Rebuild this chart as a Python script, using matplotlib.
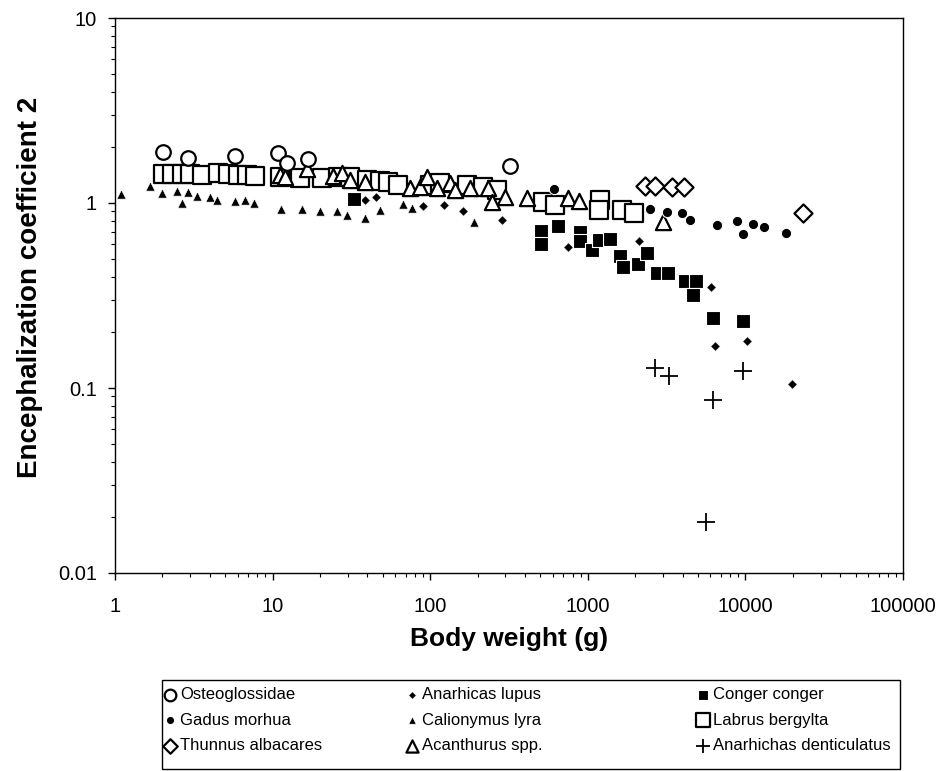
import matplotlib
matplotlib.use("Agg")
import matplotlib.pyplot as plt
from matplotlib.patches import Rectangle
from matplotlib.ticker import LogLocator, FixedLocator, NullFormatter

plt.rcParams['font.family'] = ['Liberation Sans', 'DejaVu Sans']

# ---- data (body weight g, encephalization coefficient 2) ----
osteo_x = [2.02, 2.91, 5.78, 10.8, 12.4, 16.8, 322]
osteo_y = [1.89, 1.75, 1.80, 1.86, 1.64, 1.73, 1.58]

gadus_x = [613, 2490, 3200, 3980, 4480, 6640, 8890, 9710, 11200, 13200, 18200]
gadus_y = [1.19, 0.93, 0.89, 0.88, 0.81, 0.76, 0.80, 0.68, 0.77, 0.74, 0.69]

thunnus_x = [2320, 2680, 3440, 4100, 23300]
thunnus_y = [1.24, 1.24, 1.22, 1.22, 0.88]

lupus_x = [38.7, 45.4, 90.3, 123, 162, 287, 752, 2120, 6080, 6450, 10300, 19900]
lupus_y = [1.04, 1.08, 0.96, 0.98, 0.91, 0.81, 0.58, 0.62, 0.35, 0.169, 0.18, 0.105]

lyra_x = [1.09, 1.67, 1.99, 2.48, 2.66, 2.91, 3.32, 4.01, 4.44, 5.78, 6.69, 7.63,
          11.3, 15.4, 20.0, 25.7, 29.7, 38.7, 48.2, 67.4, 76.9, 190]
lyra_y = [1.12, 1.24, 1.13, 1.16, 1.00, 1.15, 1.09, 1.08, 1.04, 1.03, 1.04, 1.00,
          0.93, 0.93, 0.91, 0.91, 0.86, 0.83, 0.92, 0.99, 0.94, 0.79]

acanth_x = [11.2, 12.0, 16.6, 24.2, 27.6, 31.1, 38.7, 74.6, 86.4, 95.7, 111, 134, 144,
            179, 233, 248, 299, 413, 752, 883, 3010]
acanth_y = [1.42, 1.38, 1.53, 1.40, 1.45, 1.33, 1.30, 1.21, 1.22, 1.38, 1.21, 1.28, 1.18,
            1.21, 1.21, 1.01, 1.08, 1.06, 1.06, 1.03, 0.79]

conger_x = [32.9, 507, 650, 507, 896, 896, 1070, 1170, 1390, 1610, 1680, 2090, 2390,
            2760, 3250, 4160, 4890, 4680, 6270, 9710]
conger_y = [1.05, 0.71, 0.75, 0.60, 0.70, 0.62, 0.56, 0.63, 0.64, 0.52, 0.45, 0.47, 0.54,
            0.42, 0.42, 0.38, 0.38, 0.32, 0.24, 0.23]

labrus_x = [2.02, 2.30, 2.66, 2.99, 3.57, 4.51, 5.22, 6.04, 6.89, 7.74, 11.2, 15.0, 20.6,
            26.0, 31.0, 39.8, 48.2, 54.1, 62.6, 100, 116, 172, 217, 266, 522, 622, 1200,
            1170, 1660, 1950]
labrus_y = [1.43, 1.43, 1.43, 1.43, 1.42, 1.45, 1.43, 1.42, 1.42, 1.40, 1.38, 1.36, 1.36,
            1.38, 1.38, 1.33, 1.31, 1.30, 1.25, 1.25, 1.28, 1.25, 1.22, 1.18, 1.01, 0.98, 1.04,
            0.92, 0.92, 0.88]

dent_x = [2680, 3290, 6270, 9710, 5650]
dent_y = [0.128, 0.116, 0.086, 0.124, 0.0189]

x_ticks = [1, 10, 100, 1000, 10000, 100000]
x_tick_labels = ["1", "10", "100", "1000", "10000", "100000"]
y_ticks = [0.01, 0.1, 1, 10]
y_tick_labels = ["0.01", "0.1", "1", "10"]

W, H = 946, 771
fig = plt.figure(figsize=(W/100, H/100), dpi=100)
ax = fig.add_axes([115/W, 1-573/H, (903-115)/W, (573-18)/H])

k = 'black'
ax.scatter(labrus_x, labrus_y, marker='s', s=150, facecolors='white', edgecolors=k, linewidths=1.6, zorder=3, label='Labrus bergylta')
ax.scatter(acanth_x, acanth_y, marker='^', s=120, facecolors='white', edgecolors=k, linewidths=1.6, zorder=4, label='Acanthurus spp.')
ax.scatter(osteo_x, osteo_y, marker='o', s=110, facecolors='white', edgecolors=k, linewidths=1.6, zorder=4, label='Osteoglossidae')
ax.scatter(thunnus_x, thunnus_y, marker='D', s=85, facecolors='white', edgecolors=k, linewidths=1.6, zorder=4, label='Thunnus albacares')
ax.scatter(gadus_x, gadus_y, marker='o', s=55, facecolors=k, edgecolors='white', linewidths=0.8, zorder=5, label='Gadus morhua')
ax.scatter(lupus_x, lupus_y, marker='D', s=24, facecolors=k, edgecolors='white', linewidths=0.5, zorder=5, label='Anarhicas lupus')
ax.scatter(lyra_x, lyra_y, marker='^', s=45, facecolors=k, edgecolors='white', linewidths=0.5, zorder=5, label='Calionymus lyra')
ax.scatter(conger_x, conger_y, marker='s', s=90, facecolors=k, edgecolors='white', linewidths=0.8, zorder=5, label='Conger conger')
ax.scatter(dent_x, dent_y, marker='+', s=160, color=k, linewidths=1.3, zorder=5, label='Anarhichas denticulatus')

ax.set_xscale('log')
ax.set_yscale('log')
ax.set_xlim(1, 100000)
ax.set_ylim(0.01, 10)
ax.xaxis.set_major_locator(FixedLocator(x_ticks))
ax.set_xticklabels(x_tick_labels)
ax.yaxis.set_major_locator(FixedLocator(y_ticks))
ax.set_yticklabels(y_tick_labels)
ax.xaxis.set_minor_locator(LogLocator(base=10, subs=range(2, 10), numticks=20))
ax.yaxis.set_minor_locator(LogLocator(base=10, subs=range(2, 10), numticks=20))
ax.xaxis.set_minor_formatter(NullFormatter())
ax.yaxis.set_minor_formatter(NullFormatter())
ax.tick_params(which='major', direction='out', length=5, width=1, labelsize=14.5)
ax.tick_params(axis='x', which='major', pad=12)
ax.tick_params(axis='y', which='major', pad=8)
ax.tick_params(which='minor', direction='out', length=3, width=0.8)
for sp in ax.spines.values():
    sp.set_linewidth(1.0)

ax.set_xlabel('Body weight (g)', fontsize=19, fontweight='bold', labelpad=8)
ax.set_ylabel('Encephalization coefficient 2', fontsize=20, fontweight='bold')
ax.yaxis.set_label_coords((43-115)/788, (573-287)/555)

# ---- legend: frame + three single-column legends ----
handles, labels = ax.get_legend_handles_labels()
hmap = dict(zip(labels, handles))
columns = [['Osteoglossidae', 'Gadus morhua', 'Thunnus albacares'],
           ['Anarhicas lupus', 'Calionymus lyra', 'Acanthurus spp.'],
           ['Conger conger', 'Labrus bergylta', 'Anarhichas denticulatus']]
col_x = [156, 398, 689]
fig.patches.append(Rectangle((162/W, 1-769/H), (900-162)/W, (769-680)/H,
                             transform=fig.transFigure, fill=False, edgecolor='black',
                             linewidth=1.0))
for cx, names in zip(col_x, columns):
    lg = fig.legend([hmap[n] for n in names], names, loc='upper left',
                    bbox_to_anchor=(cx/W, 1-680/H), fontsize=12, frameon=False,
                    handletextpad=0.2, handlelength=0.8, borderaxespad=0,
                    labelspacing=0.62, markerscale=0.8, borderpad=0.45)

fig.savefig('out.png', dpi=100)
